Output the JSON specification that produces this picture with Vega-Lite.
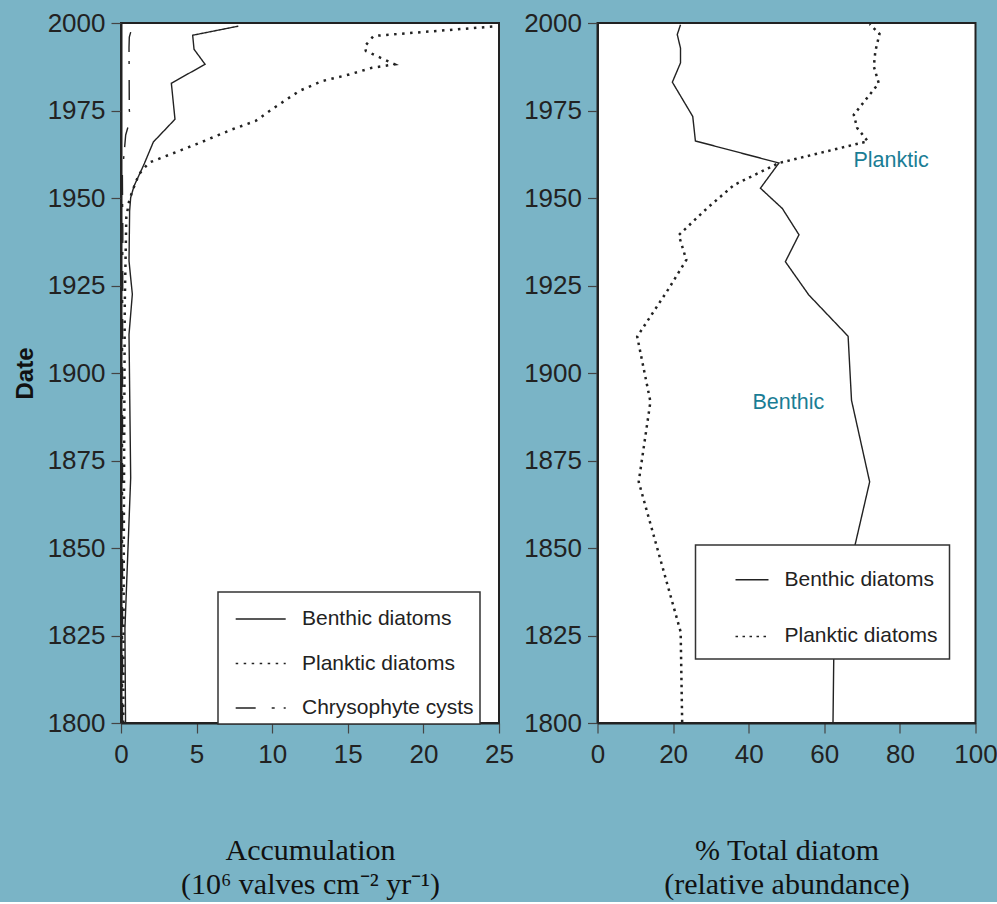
{
  "$schema": "https://vega.github.io/schema/vega-lite/v6.json",
  "background": "#7AB4C6",
  "padding": {"left": 12, "top": 9, "right": -2, "bottom": 2},
  "spacing": 7.5,
  "config": {
    "font": "Liberation Sans",
    "view": {"fill": "white", "stroke": "#222", "strokeWidth": 2},
    "axis": {"grid": false, "labelFlush": false, "labelFont": "Liberation Sans", "labelFontSize": 26, "labelColor": "#222", "tickSize": 10, "tickColor": "#444", "tickWidth": 1.2, "domainColor": "#222", "domainWidth": 2, "labelPadding": 6, "titleColor": "#111"},
    "axisX": {"titleFont": "Liberation Serif", "titleFontSize": 30, "titleFontWeight": "normal", "titleLineHeight": 34, "titlePadding": 68, "labelPadding": 8},
    "axisY": {"titleFont": "Liberation Sans", "titleFontSize": 24, "titleFontWeight": "bold", "titlePadding": 10},
    "legend": {"orient": "none", "strokeColor": "#333", "strokeWidth": 1.5, "fillColor": "white", "labelFont": "Liberation Sans", "labelFontSize": 21, "labelColor": "#222", "labelLimit": 400, "symbolStrokeColor": "#222", "symbolStrokeWidth": 1.5, "symbolFillColor": "transparent", "title": null}
  },
  "datasets": {
    "acc": [
      {"series": "Benthic diatoms", "year": 1999.1, "value": 7.76},
      {"series": "Benthic diatoms", "year": 1996.5, "value": 4.74},
      {"series": "Benthic diatoms", "year": 1992.5, "value": 4.83},
      {"series": "Benthic diatoms", "year": 1988.2, "value": 5.56},
      {"series": "Benthic diatoms", "year": 1982.8, "value": 3.33},
      {"series": "Benthic diatoms", "year": 1972.5, "value": 3.57},
      {"series": "Benthic diatoms", "year": 1966.0, "value": 2.14},
      {"series": "Benthic diatoms", "year": 1959.6, "value": 1.52},
      {"series": "Benthic diatoms", "year": 1953.4, "value": 0.86},
      {"series": "Benthic diatoms", "year": 1950.1, "value": 0.64},
      {"series": "Benthic diatoms", "year": 1946.3, "value": 0.57},
      {"series": "Benthic diatoms", "year": 1932.0, "value": 0.53},
      {"series": "Benthic diatoms", "year": 1922.5, "value": 0.75},
      {"series": "Benthic diatoms", "year": 1911.0, "value": 0.53},
      {"series": "Benthic diatoms", "year": 1870.0, "value": 0.64},
      {"series": "Benthic diatoms", "year": 1827.0, "value": 0.26},
      {"series": "Benthic diatoms", "year": 1800.0, "value": 0.3},
      {"series": "Planktic diatoms", "year": 1999.1, "value": 24.9},
      {"series": "Planktic diatoms", "year": 1996.3, "value": 16.7},
      {"series": "Planktic diatoms", "year": 1993.2, "value": 16.1},
      {"series": "Planktic diatoms", "year": 1992.0, "value": 16.2},
      {"series": "Planktic diatoms", "year": 1988.2, "value": 18.1},
      {"series": "Planktic diatoms", "year": 1987.2, "value": 16.6},
      {"series": "Planktic diatoms", "year": 1985.3, "value": 15.1},
      {"series": "Planktic diatoms", "year": 1983.4, "value": 13.3},
      {"series": "Planktic diatoms", "year": 1980.6, "value": 11.8},
      {"series": "Planktic diatoms", "year": 1975.4, "value": 10.0},
      {"series": "Planktic diatoms", "year": 1972.0, "value": 8.9},
      {"series": "Planktic diatoms", "year": 1969.6, "value": 7.35},
      {"series": "Planktic diatoms", "year": 1965.3, "value": 4.94},
      {"series": "Planktic diatoms", "year": 1960.1, "value": 1.85},
      {"series": "Planktic diatoms", "year": 1956.8, "value": 1.19},
      {"series": "Planktic diatoms", "year": 1952.0, "value": 0.75},
      {"series": "Planktic diatoms", "year": 1949.0, "value": 0.53},
      {"series": "Planktic diatoms", "year": 1944.4, "value": 0.35},
      {"series": "Planktic diatoms", "year": 1920.0, "value": 0.25},
      {"series": "Planktic diatoms", "year": 1870.0, "value": 0.2},
      {"series": "Planktic diatoms", "year": 1800.0, "value": 0.15},
      {"series": "Chrysophyte cysts", "year": 1999.0, "value": 0.75},
      {"series": "Chrysophyte cysts", "year": 1996.0, "value": 0.55},
      {"series": "Chrysophyte cysts", "year": 1993.0, "value": 0.53},
      {"series": "Chrysophyte cysts", "year": 1975.0, "value": 0.55},
      {"series": "Chrysophyte cysts", "year": 1973.0, "value": 0.64},
      {"series": "Chrysophyte cysts", "year": 1968.0, "value": 0.31},
      {"series": "Chrysophyte cysts", "year": 1957.0, "value": 0.09},
      {"series": "Chrysophyte cysts", "year": 1940.0, "value": 0.12},
      {"series": "Chrysophyte cysts", "year": 1900.0, "value": 0.1},
      {"series": "Chrysophyte cysts", "year": 1800.0, "value": 0.1}
    ],
    "pct": [
      {"taxon": "Benthic diatoms", "year": 1999.5, "value": 21.96},
      {"taxon": "Benthic diatoms", "year": 1996.7, "value": 21.1},
      {"taxon": "Benthic diatoms", "year": 1992.8, "value": 21.96},
      {"taxon": "Benthic diatoms", "year": 1988.6, "value": 21.96},
      {"taxon": "Benthic diatoms", "year": 1983.1, "value": 19.8},
      {"taxon": "Benthic diatoms", "year": 1973.3, "value": 25.2},
      {"taxon": "Benthic diatoms", "year": 1966.3, "value": 25.9},
      {"taxon": "Benthic diatoms", "year": 1960.0, "value": 48.0},
      {"taxon": "Benthic diatoms", "year": 1952.8, "value": 43.1},
      {"taxon": "Benthic diatoms", "year": 1947.0, "value": 48.9},
      {"taxon": "Benthic diatoms", "year": 1939.5, "value": 53.3},
      {"taxon": "Benthic diatoms", "year": 1931.8, "value": 49.7},
      {"taxon": "Benthic diatoms", "year": 1922.3, "value": 55.9},
      {"taxon": "Benthic diatoms", "year": 1910.5, "value": 66.3},
      {"taxon": "Benthic diatoms", "year": 1892.2, "value": 67.2},
      {"taxon": "Benthic diatoms", "year": 1868.9, "value": 72.0},
      {"taxon": "Benthic diatoms", "year": 1850.7, "value": 68.1},
      {"taxon": "Benthic diatoms", "year": 1818.3, "value": 62.5},
      {"taxon": "Benthic diatoms", "year": 1800.0, "value": 62.3},
      {"taxon": "Planktic diatoms", "year": 1999.7, "value": 72.0},
      {"taxon": "Planktic diatoms", "year": 1996.9, "value": 74.6},
      {"taxon": "Planktic diatoms", "year": 1991.9, "value": 73.5},
      {"taxon": "Planktic diatoms", "year": 1987.6, "value": 73.1},
      {"taxon": "Planktic diatoms", "year": 1982.8, "value": 74.4},
      {"taxon": "Planktic diatoms", "year": 1973.8, "value": 67.8},
      {"taxon": "Planktic diatoms", "year": 1970.0, "value": 68.7},
      {"taxon": "Planktic diatoms", "year": 1966.2, "value": 71.5},
      {"taxon": "Planktic diatoms", "year": 1960.0, "value": 48.0},
      {"taxon": "Planktic diatoms", "year": 1953.7, "value": 36.1},
      {"taxon": "Planktic diatoms", "year": 1947.1, "value": 29.0},
      {"taxon": "Planktic diatoms", "year": 1939.4, "value": 21.5},
      {"taxon": "Planktic diatoms", "year": 1932.3, "value": 23.5},
      {"taxon": "Planktic diatoms", "year": 1924.2, "value": 18.9},
      {"taxon": "Planktic diatoms", "year": 1910.4, "value": 10.5},
      {"taxon": "Planktic diatoms", "year": 1891.8, "value": 14.0},
      {"taxon": "Planktic diatoms", "year": 1868.9, "value": 10.9},
      {"taxon": "Planktic diatoms", "year": 1826.0, "value": 22.0},
      {"taxon": "Planktic diatoms", "year": 1800.2, "value": 22.4}
    ],
    "notes": [
      {"label": "Planktic", "year": 1960.5, "value": 67.7},
      {"label": "Benthic", "year": 1891.3, "value": 41.0}
    ]
  },
  "resolve": {"scale": {"strokeDash": "independent", "x": "independent", "y": "independent"}, "legend": {"strokeDash": "independent"}},
  "hconcat": [
    {
      "width": 378,
      "height": 700,
      "data": {"name": "acc"},
      "mark": {"type": "line", "color": "#222", "strokeCap": "butt"},
      "encoding": {
        "x": {"field": "value", "type": "quantitative", "scale": {"domain": [0, 25], "nice": false}, "axis": {"values": [0, 5, 10, 15, 20, 25], "title": ["Accumulation", "(10⁶ valves cm⁻² yr⁻¹)"]}},
        "y": {"field": "year", "type": "quantitative", "scale": {"domain": [1800, 2000], "nice": false, "zero": false}, "axis": {"values": [1800, 1825, 1850, 1875, 1900, 1925, 1950, 1975, 2000], "format": "d", "title": "Date"}},
        "strokeDash": {"field": "series", "type": "nominal", "scale": {"domain": ["Benthic diatoms", "Planktic diatoms", "Chrysophyte cysts"], "range": [[1, 0], [2.5, 5.5], [20, 16, 3, 9]]}, "legend": {"legendX": 97, "legendY": 569, "symbolType": "M-1.22,0H1.22", "padding": 5.5, "symbolOffset": 15.7, "symbolSize": 1681, "labelOffset": 19.8, "rowPadding": 12.5}},
        "strokeWidth": {"condition": {"test": "datum.series === 'Planktic diatoms'", "value": 2.5}, "value": 1.4},
        "order": {"field": "year", "type": "quantitative"}
      }
    },
    {
      "width": 378,
      "height": 700,
      "layer": [
        {
          "data": {"name": "pct"},
          "mark": {"type": "line", "color": "#222", "strokeCap": "butt"},
          "encoding": {
            "x": {"field": "value", "type": "quantitative", "scale": {"domain": [0, 100], "nice": false}, "axis": {"values": [0, 20, 40, 60, 80, 100], "title": ["% Total diatom", "(relative abundance)"]}},
            "y": {"field": "year", "type": "quantitative", "scale": {"domain": [1800, 2000], "nice": false, "zero": false}, "axis": {"values": [1800, 1825, 1850, 1875, 1900, 1925, 1950, 1975, 2000], "format": "d", "title": null}},
            "strokeDash": {"field": "taxon", "type": "nominal", "scale": {"domain": ["Benthic diatoms", "Planktic diatoms"], "range": [[1, 0], [2.5, 4.5]]}, "legend": {"legendX": 98, "legendY": 522, "symbolType": "M-0.753,0H0.753", "padding": 11.8, "symbolOffset": 21.7, "symbolSize": 1918, "labelOffset": 9.5, "rowPadding": 23.6}},
            "strokeWidth": {"condition": {"test": "datum.taxon === 'Planktic diatoms'", "value": 2.5}, "value": 1.4},
            "order": {"field": "year", "type": "quantitative"}
          }
        },
        {
          "data": {"name": "notes"},
          "mark": {"type": "text", "align": "left", "baseline": "middle", "font": "Liberation Sans", "fontSize": 21.5, "color": "#1A7D95"},
          "encoding": {
            "x": {"field": "value", "type": "quantitative"},
            "y": {"field": "year", "type": "quantitative"},
            "text": {"field": "label", "type": "nominal"}
          }
        }
      ]
    }
  ]
}
